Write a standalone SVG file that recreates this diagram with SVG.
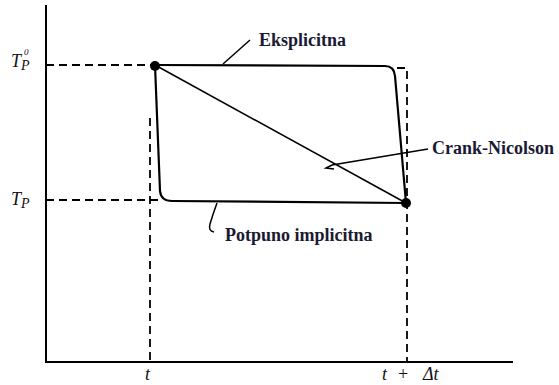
<svg xmlns="http://www.w3.org/2000/svg" width="559" height="385" viewBox="0 0 559 385">
<style>
.ax{stroke:#000;stroke-width:2;fill:none}
.dash{stroke:#000;stroke-width:1.8;fill:none;stroke-dasharray:8,5}
.crv{stroke:#000;stroke-width:2.2;fill:none;stroke-linejoin:round}
.thin{stroke:#000;stroke-width:1.5;fill:none}
.lbl{font-family:"Liberation Serif",serif;font-weight:bold;font-size:18px;fill:#1a1a33}
.it{font-family:"Liberation Serif",serif;font-style:italic;font-size:18px;fill:#111}
</style>
<rect width="559" height="385" fill="#fff"/>
<g id="axes">
<path class="ax" d="M46,5 L46,362 L513,362"/>
</g>
<g id="guides">
<path class="dash" d="M46,65 L152,65"/>
<path class="dash" d="M46,200 L162,200"/>
<path class="dash" d="M150,118 L150,362"/>
<path class="dash" d="M397,68 L407,68 L407,362"/>
</g>
<g id="connectors">
<path id="eksplicitna-curve" class="crv" d="M155,65 L385,66 Q394,66 395,76 L406,203"/>
<path id="implicitna-curve" class="crv" d="M155,65 L160,191 Q161,201 172,201 L406,203"/>
<path id="crank-line" class="thin" d="M155,65 L406,203"/>
<path class="thin" d="M223,64 L250,40"/>
<path class="thin" d="M428,149 L332,165 L326,168 L334,169"/>
<path class="thin" d="M217,203 Q213,214 210,224 Q208,231 214,232"/>
</g>
<g id="points">
<circle cx="155" cy="66" r="5" fill="#000"/>
<circle cx="406" cy="203" r="5" fill="#000"/>
</g>
<g id="label-eksplicitna"><text class="lbl" x="259" y="46">Eksplicitna</text></g>
<g id="label-crank"><text class="lbl" x="432" y="154">Crank-Nicolson</text></g>
<g id="label-implicitna"><text class="lbl" x="225" y="241">Potpuno implicitna</text></g>
<g id="label-tp0"><text class="it" x="11" y="67">T<tspan style="font-size:14px" dy="3">P</tspan></text><text class="it" x="24" y="55" style="font-size:9px">0</text></g>
<g id="label-tp"><text class="it" x="11" y="205">T<tspan style="font-size:14px" dy="3">P</tspan></text></g>
<g id="label-t"><text class="it" x="145" y="380">t</text></g>
<g id="label-tdt"><text class="it" y="380"><tspan x="382">t</tspan><tspan x="398" style="font-style:normal">+</tspan><tspan x="423">Δt</tspan></text></g>
</svg>
